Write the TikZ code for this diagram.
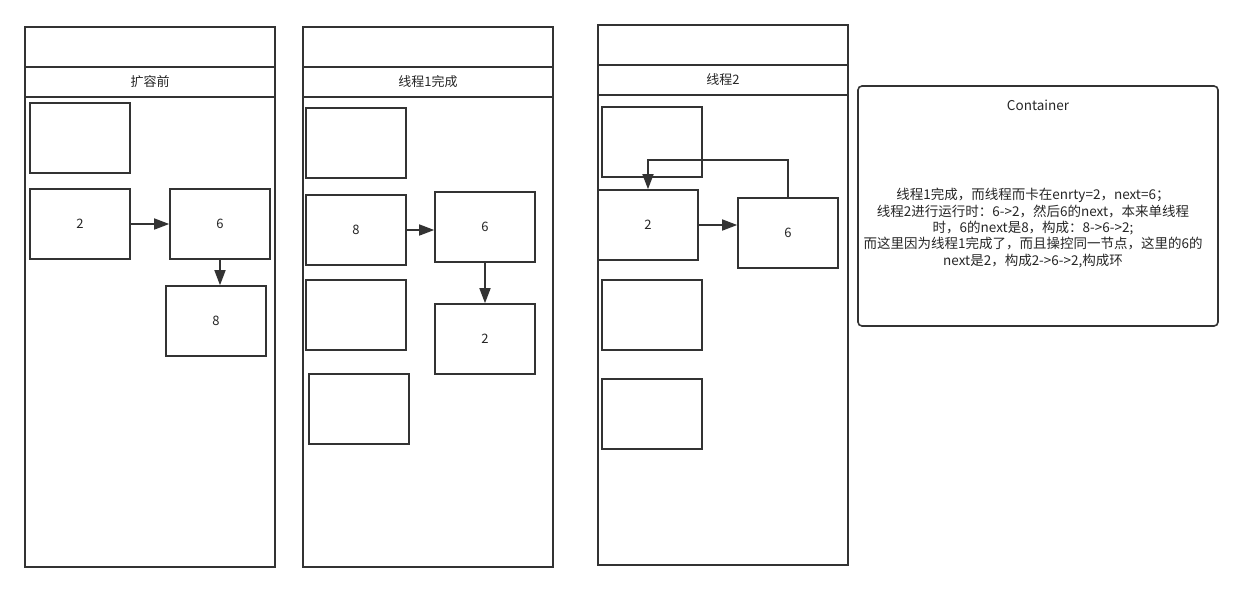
\documentclass[tikz,border=0pt]{standalone}
\usepackage{fontspec}
\setmainfont{Noto Sans CJK SC}
\usetikzlibrary{arrows.meta}
\begin{document}
\begin{tikzpicture}[x=1pt,y=-1pt,
  ln/.style={draw=black!80,line width=1.6pt},
  cell/.style={ln,fill=white},
  txt/.style={font=\fontsize{13}{16}\selectfont,text=black!85},
  arr/.style={draw=black!80,line width=1.6pt,-{Triangle[length=15pt,width=11pt]}}]
\useasboundingbox (0,0) rectangle (1243,592);

% three lanes: title band, header row, body
\foreach \x/\y/\h/\lbl/\nm in {25/27/67/扩容前/a,303/27/67/线程1完成/b,598/25/65/线程2/c}{
  \draw[ln] (\x,\y) rectangle ++(250,540);
  \draw[ln] (\x,\h) -- ++(250,0);
  \draw[ln] (\x,\h+30) -- ++(250,0);
  \node[txt] (h\nm) at (\x+125,\h+15) {\lbl};
}

% lane 1
\draw[cell] (30,103) rectangle (130,173);
\node[cell,txt,minimum width=100pt,minimum height=70pt] (a2) at (80,224) {2};
\node[cell,txt,minimum width=100pt,minimum height=70pt] (a6) at (220,224) {6};
\node[cell,txt,minimum width=100pt,minimum height=70pt] (a8) at (216,321) {8};
\draw[arr] (a2.east) -- (a6.west);
\draw[arr] (a6.south) -- (a8.north -| a6.south);

% lane 2
\draw[cell] (306,108) rectangle (406,178);
\node[cell,txt,minimum width=100pt,minimum height=70pt] (b8) at (356,230) {8};
\node[cell,txt,minimum width=100pt,minimum height=70pt] (b6) at (485,227) {6};
\draw[cell] (306,280) rectangle (406,350);
\node[cell,txt,minimum width=100pt,minimum height=70pt] (b2) at (485,339) {2};
\draw[cell] (309,374) rectangle (409,444);
\draw[arr] (b8.east) -- (b8.east -| b6.west);
\draw[arr] (b6.south) -- (b2.north);

% lane 3
\draw[cell] (602,107) rectangle (702,177);
\node[cell,txt,minimum width=100pt,minimum height=70pt] (c2) at (648,225) {2};
\node[cell,txt,minimum width=100pt,minimum height=70pt] (c6) at (788,233) {6};
\draw[cell] (602,280) rectangle (702,350);
\draw[cell] (602,379) rectangle (702,449);
\draw[arr] (c2.east) -- (c2.east -| c6.west);
\coordinate (cr) at (788,160);
\coordinate (cl) at (648,160);
\draw[arr] (c6.north) -- (cr) -- (cl) -- (c2.north);

% container with explanation
\draw[ln,rounded corners=4pt] (858,86) rectangle (1218,326);
\node[txt,font=\fontsize{13.5}{16}\selectfont] (ct) at (1038,105) {Container};
\node[txt,align=center,font=\fontsize{13.5}{16.3}\selectfont] (note) at (1033,228)
  {线程1完成，而线程而卡在enrty=2，next=6；\\
   线程2进行运行时：6->2，然后6的next，本来单线程\\
   时，6的next是8，构成：8->6->2;\\
   而这里因为线程1完成了，而且操控同一节点，这里的6的\\
   next是2，构成2->6->2,构成环};
\end{tikzpicture}
\end{document}
